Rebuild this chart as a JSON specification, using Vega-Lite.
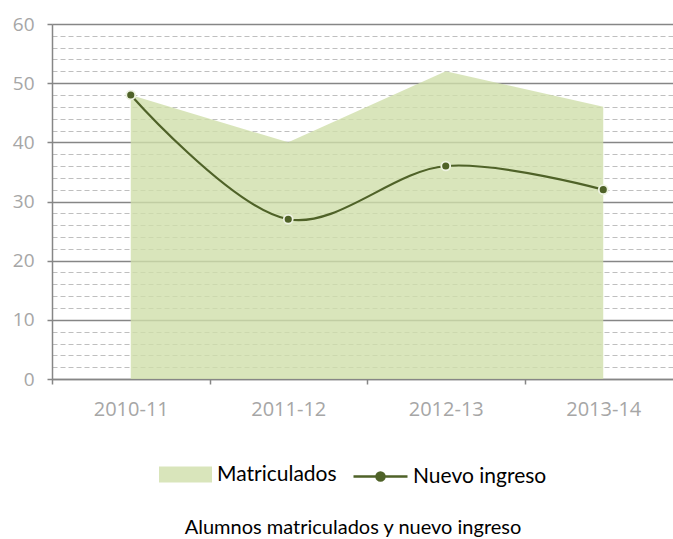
{
  "$schema": "https://vega.github.io/schema/vega-lite/v6.json",
  "width": 630,
  "height": 355,
  "autosize": {"type": "none"},
  "padding": {"left": 52, "top": 24, "right": 0, "bottom": 160},
  "background": "white",
  "data": {
    "values": [
      {"curso": "2010-11", "serie": "Matriculados", "valor": 48},
      {"curso": "2011-12", "serie": "Matriculados", "valor": 40},
      {"curso": "2012-13", "serie": "Matriculados", "valor": 52},
      {"curso": "2013-14", "serie": "Matriculados", "valor": 46},
      {"curso": "2010-11", "serie": "Nuevo ingreso", "valor": 48},
      {"curso": "2011-12", "serie": "Nuevo ingreso", "valor": 27},
      {"curso": "2012-13", "serie": "Nuevo ingreso", "valor": 36},
      {"curso": "2013-14", "serie": "Nuevo ingreso", "valor": 32}
    ]
  },
  "title": {
    "text": "Alumnos matriculados y nuevo ingreso",
    "orient": "bottom",
    "anchor": "middle",
    "offset": 31,
    "dx": -14,
    "font": "Lato",
    "fontSize": 20,
    "fontWeight": "normal",
    "color": "#000000"
  },
  "layer": [
    {
      "transform": [{"filter": "datum.serie === 'Matriculados'"}],
      "mark": {"type": "area", "opacity": 0.8},
      "encoding": {
        "x": {
          "field": "curso",
          "type": "ordinal",
          "sort": null,
          "scale": {"paddingInner": 0, "paddingOuter": 0},
          "axis": {
            "title": null,
            "tickBand": "extent",
            "grid": false,
            "domainColor": "#868686",
            "domainWidth": 1.5,
            "tickColor": "#868686",
            "tickWidth": 1.5,
            "tickSize": 5,
            "labelAngle": 0,
            "labelColor": "#a6a6a6",
            "labelFont": "Open Sans",
            "labelFontSize": 20,
            "labelPadding": 15
          }
        },
        "y": {
          "field": "valor",
          "type": "quantitative",
          "scale": {"domain": [0, 60], "nice": false},
          "axis": {
            "title": null,
            "orient": "left",
            "values": [0, 10, 20, 30, 40, 50, 60],
            "grid": true,
            "gridColor": "#868686",
            "gridWidth": 1.3,
            "domainColor": "#868686",
            "domainWidth": 1.5,
            "tickColor": "#868686",
            "tickWidth": 1.5,
            "tickSize": 5,
            "labelColor": "#a6a6a6",
            "labelFont": "Open Sans",
            "labelFontSize": 19,
            "labelPadding": 13
          }
        },
        "color": {
          "field": "serie",
          "type": "nominal",
          "scale": {"domain": ["Matriculados"], "range": ["#cfdfaa"]},
          "legend": {
            "title": null,
            "orient": "none",
            "legendX": 107,
            "legendY": 424,
            "direction": "horizontal",
            "symbolType": "M-1,-0.3H1V0.3H-1Z",
            "symbolSize": 2809,
            "symbolOpacity": 0.8,
            "symbolStrokeWidth": 0,
            "labelFont": "Lato",
            "labelFontSize": 21,
            "labelColor": "#000000",
            "labelOffset": 5
          }
        }
      }
    },
    {
      "transform": [{"filter": "datum.serie === 'Nuevo ingreso'"}],
      "mark": {"type": "line", "interpolate": "catmull-rom", "strokeWidth": 2.2},
      "encoding": {
        "x": {"field": "curso", "type": "ordinal", "sort": null},
        "y": {
          "field": "valor",
          "type": "quantitative",
          "axis": {
            "title": null,
            "orient": "left",
            "values": [2, 4, 6, 8, 12, 14, 16, 18, 22, 24, 26, 28, 32, 34, 36, 38, 42, 44, 46, 48, 52, 54, 56, 58],
            "grid": true,
            "gridColor": "#bfbfbf",
            "gridWidth": 1.2,
            "gridDash": [5, 3],
            "domain": false,
            "ticks": false,
            "labels": false
          }
        },
        "stroke": {
          "field": "serie",
          "type": "nominal",
          "scale": {"domain": ["Nuevo ingreso"], "range": ["#4f6228"]},
          "legend": {
            "title": null,
            "orient": "none",
            "legendX": 300,
            "legendY": 424,
            "direction": "horizontal",
            "symbolType": "M-1,0H1 M-0.15,0A0.15,0.15 0 1,1 0.15,0A0.15,0.15 0 1,1 -0.15,0 M-0.07,0A0.07,0.07 0 1,1 0.07,0A0.07,0.07 0 1,1 -0.07,0",
            "symbolSize": 2916,
            "symbolStrokeWidth": 2.4,
            "symbolOpacity": 1,
            "symbolFillColor": "#4f6228",
            "labelFont": "Lato",
            "labelFontSize": 21,
            "labelColor": "#000000",
            "labelOffset": 4
          }
        }
      }
    },
    {
      "transform": [{"filter": "datum.serie === 'Nuevo ingreso'"}],
      "mark": {"type": "point", "filled": true, "size": 80, "fill": "#4f6228", "stroke": "#eef3e2", "strokeWidth": 1.8, "opacity": 1},
      "encoding": {
        "x": {"field": "curso", "type": "ordinal", "sort": null},
        "y": {"field": "valor", "type": "quantitative"}
      }
    }
  ],
  "resolve": {"axis": {"y": "independent"}}
}
